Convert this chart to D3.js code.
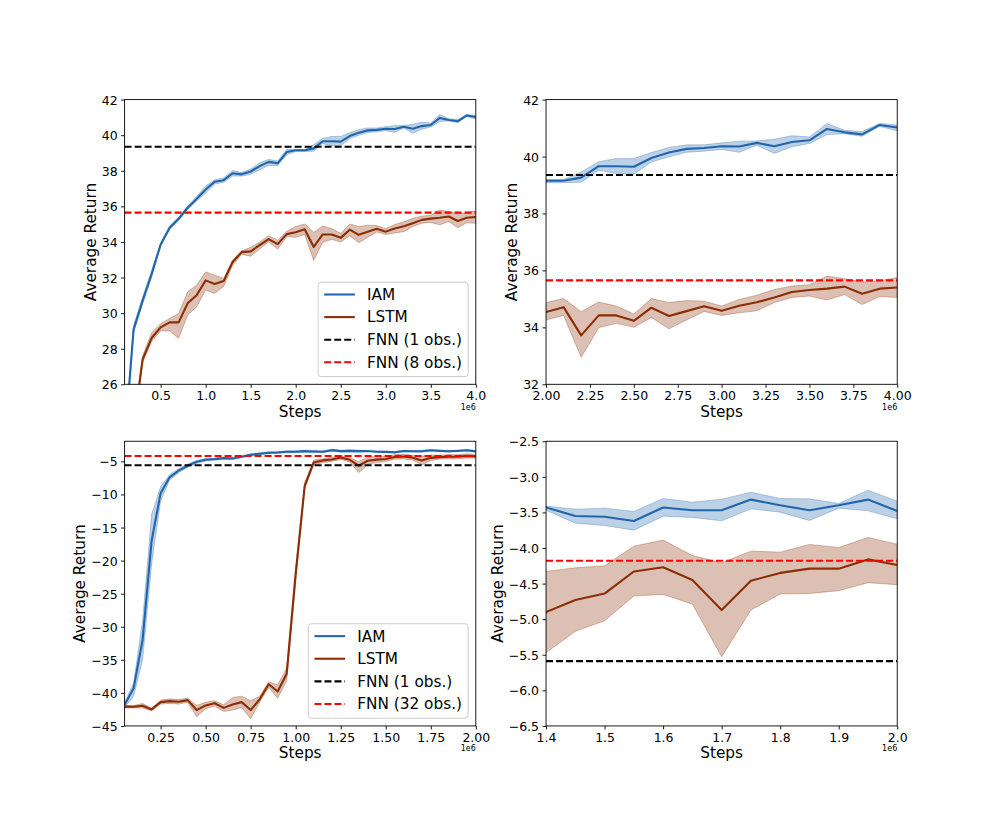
<!DOCTYPE html>
<html><head><meta charset="utf-8">
<script src="https://cdn.jsdelivr.net/npm/d3@7"></script>
<style>
html,body{margin:0;padding:0;background:#fff;}
svg{display:block;font-family:"DejaVu Sans",sans-serif;}
</style></head><body>
<svg id="chart" width="997" height="830"></svg>
<script>
// ---------- data ----------
const topSteps = [0.1,0.2,0.3,0.4,0.5,0.6,0.7,0.8,0.9,1.0,1.1,1.2,1.3,1.4,1.5,1.6,1.7,1.8,1.9,2.0,2.1,2.2,2.3,2.4,2.5,2.6,2.7,2.8,2.9,3.0,3.1,3.2,3.3,3.4,3.5,3.6,3.7,3.8,3.9,4.0];
const topIAM   = [22.7,29.09,30.7,32.2,33.85,34.8,35.3,35.92,36.42,36.95,37.38,37.47,37.86,37.8,37.96,38.26,38.5,38.42,39.05,39.15,39.15,39.26,39.66,39.66,39.64,39.95,40.14,40.27,40.30,40.36,40.35,40.48,40.36,40.51,40.57,40.97,40.85,40.78,41.11,41.02];
const topIAMLo = [22.4,28.9,30.5,32.0,33.75,34.7,35.2,35.82,36.3,36.75,37.25,37.35,37.7,37.7,37.8,38.05,38.3,38.3,38.9,39.08,39.08,39.1,39.52,39.40,39.38,39.81,39.99,40.15,40.19,40.25,40.15,40.40,40.11,40.34,40.46,40.77,40.80,40.71,41.06,40.90];
const topIAMHi = [23.0,29.3,30.9,32.4,33.95,34.9,35.4,36.02,36.55,37.15,37.5,37.6,38.02,37.9,38.1,38.45,38.65,38.55,39.2,39.19,39.19,39.46,39.82,39.93,39.93,40.14,40.32,40.41,40.41,40.48,40.54,40.55,40.61,40.73,40.69,41.16,40.92,40.88,41.16,41.11];
const topLSTM   = [20.5,23.6,27.4,28.6,29.2,29.48,29.48,30.55,31.0,31.84,31.64,31.8,32.87,33.43,33.47,33.82,34.16,33.88,34.44,34.54,34.71,33.72,34.42,34.42,34.23,34.69,34.40,34.57,34.74,34.58,34.76,34.88,35.05,35.24,35.31,35.36,35.43,35.18,35.36,35.40];
const topLSTMLo = [20.2,23.3,27.2,28.4,29.0,29.0,28.58,29.9,30.36,31.3,31.1,31.5,32.7,33.3,33.2,33.6,34.0,33.6,34.3,34.26,34.42,32.95,33.99,34.14,34.0,34.35,33.95,34.26,34.56,34.42,34.51,34.58,34.87,35.05,35.10,34.96,35.15,34.80,35.08,35.05];
const topLSTMHi = [20.8,23.9,27.6,28.9,29.4,29.7,29.98,31.2,31.57,32.32,32.13,31.95,33.0,33.5,33.7,34.0,34.35,34.1,34.6,34.87,35.01,34.55,34.89,34.75,34.47,35.01,34.87,34.94,34.92,34.75,34.98,35.13,35.33,35.45,35.50,35.80,35.71,35.59,35.64,35.75];
const topFNN1 = 39.35;
const topFNN8 = 35.65;

const botSteps = [0.05,0.10,0.15,0.20,0.25,0.30,0.35,0.40,0.45,0.50,0.55,0.60,0.65,0.70,0.75,0.80,0.85,0.90,0.95,1.00,1.05,1.10,1.15,1.20,1.25,1.30,1.35,1.40,1.45,1.50,1.55,1.60,1.65,1.70,1.75,1.80,1.85,1.90,1.95,2.00];
const botIAM   = [-41.8,-39.3,-32.0,-17.0,-9.8,-7.4,-6.4,-5.65,-5.05,-4.75,-4.65,-4.5,-4.55,-4.3,-4.0,-3.85,-3.7,-3.65,-3.55,-3.55,-3.45,-3.5,-3.55,-3.3,-3.45,-3.4,-3.45,-3.43,-3.55,-3.56,-3.62,-3.43,-3.47,-3.47,-3.32,-3.40,-3.47,-3.40,-3.32,-3.48];
const botIAMLo = [-42.2,-40.5,-35.0,-20.5,-11.0,-7.8,-6.7,-5.9,-5.3,-4.95,-4.8,-4.65,-4.7,-4.45,-4.15,-4.0,-3.85,-3.8,-3.7,-3.7,-3.6,-3.65,-3.7,-3.45,-3.6,-3.55,-3.6,-3.47,-3.651,-3.684,-3.749,-3.553,-3.571,-3.618,-3.45,-3.496,-3.613,-3.44,-3.478,-3.59];
const botIAMHi = [-41.4,-38.5,-29.0,-13.0,-8.8,-7.0,-6.1,-5.4,-4.85,-4.55,-4.5,-4.35,-4.4,-4.15,-3.85,-3.7,-3.55,-3.5,-3.4,-3.4,-3.3,-3.35,-3.4,-3.15,-3.3,-3.25,-3.3,-3.41,-3.454,-3.44,-3.487,-3.305,-3.356,-3.314,-3.216,-3.305,-3.309,-3.375,-3.188,-3.342];
const botLSTM   = [-42.08,-42.1,-41.95,-42.5,-41.4,-41.25,-41.35,-41.1,-42.6,-41.9,-41.57,-42.27,-41.77,-41.4,-42.6,-40.96,-38.7,-39.8,-37.1,-22.0,-8.7,-5.15,-4.85,-4.7,-4.4,-4.75,-5.65,-4.90,-4.73,-4.64,-4.33,-4.27,-4.45,-4.87,-4.46,-4.35,-4.29,-4.29,-4.16,-4.24];
const botLSTMLo = [-42.3,-42.3,-42.3,-42.7,-41.7,-41.6,-41.7,-41.4,-43.6,-42.4,-42.0,-42.8,-42.6,-42.2,-43.9,-41.4,-39.2,-40.8,-38.2,-23.0,-9.2,-5.5,-5.2,-5.0,-4.7,-5.1,-6.7,-5.471,-5.171,-5.022,-4.675,-4.652,-4.788,-5.527,-4.872,-4.647,-4.638,-4.6,-4.488,-4.516];
const botLSTMHi = [-41.9,-41.9,-41.6,-42.3,-41.1,-40.9,-41.0,-40.8,-41.9,-41.4,-41.2,-41.8,-40.7,-40.5,-41.2,-40.5,-38.3,-38.8,-36.2,-21.0,-8.2,-4.8,-4.6,-4.4,-4.1,-4.4,-5.0,-4.329,-4.278,-4.25,-3.974,-3.889,-4.105,-4.208,-4.044,-4.058,-3.95,-3.992,-3.852,-3.946];
const botFNN1 = -5.59;
const botFNN32 = -4.18;

const topLegend = ["IAM","LSTM","FNN (1 obs.)","FNN (8 obs.)"];
const botLegend = ["IAM","LSTM","FNN (1 obs.)","FNN (32 obs.)"];

const tlXTicks = [0.5,1.0,1.5,2.0,2.5,3.0,3.5,4.0];
const tlYTicks = [26,28,30,32,34,36,38,40,42];
const trXTicks = [2.0,2.25,2.5,2.75,3.0,3.25,3.5,3.75,4.0];
const trYTicks = [32,34,36,38,40,42];
const blXTicks = [0.25,0.5,0.75,1.0,1.25,1.5,1.75,2.0];
const blYTicks = [-45,-40,-35,-30,-25,-20,-15,-10,-5];
const brXTicks = [1.4,1.5,1.6,1.7,1.8,1.9,2.0];
const brYTicks = [-6.5,-6.0,-5.5,-5.0,-4.5,-4.0,-3.5,-3.0,-2.5];

// ---------- styles ----------
const C_IAM = "#2166ac", C_LSTM = "#8c2d04";
const FS_TICK = 12.5, FS_LABEL = 15.3;

const svg = d3.select("#chart");
const leftM = 124.6, pw = 351.2, topM = 99.6, ph = 284.7;

function mk(steps, v, lo, hi){ return steps.map((s,i)=>({s, v:v[i], lo:lo[i], hi:hi[i]})); }
const topI = mk(topSteps, topIAM, topIAMLo, topIAMHi);
const topL = mk(topSteps, topLSTM, topLSTMLo, topLSTMHi);
const botI = mk(botSteps, botIAM, botIAMLo, botIAMHi);
const botL = mk(botSteps, botLSTM, botLSTMLo, botLSTMHi);

let clipN = 0;
function panel(cfg){
  const g = svg.append("g").attr("transform", `translate(${cfg.x0},${cfg.y0})`);
  const x = d3.scaleLinear().domain(cfg.xDomain).range([0,pw]);
  const y = d3.scaleLinear().domain(cfg.yDomain).range([ph,0]);
  const id = "clip"+(clipN++);
  g.append("clipPath").attr("id", id).append("rect").attr("width", pw).attr("height", ph);
  const plot = g.append("g").attr("clip-path", `url(#${id})`);
  const area = d3.area().x(d=>x(d.s)).y0(d=>y(d.lo)).y1(d=>y(d.hi));
  const line = d3.line().x(d=>x(d.s)).y(d=>y(d.v));
  cfg.series.forEach(s=>{
    plot.append("path").attr("d", area(s.data)).attr("fill", s.color).attr("fill-opacity", 0.3)
      .attr("stroke", s.color).attr("stroke-opacity", 0.3).attr("stroke-width", 1);
    plot.append("path").attr("d", line(s.data)).attr("fill","none").attr("stroke", s.color)
      .attr("stroke-width", 2.1).attr("stroke-linejoin","round");
  });
  cfg.hlines.forEach(h=>{
    plot.append("line").attr("x1",0).attr("x2",pw).attr("y1",y(h.v)).attr("y2",y(h.v))
      .attr("stroke", h.color).attr("stroke-width", 2.1).attr("stroke-dasharray","7,3");
  });
  // axes
  const xa = g.append("g").attr("transform", `translate(0,${ph})`)
    .call(d3.axisBottom(x).tickValues(cfg.xTicks).tickFormat(d3.format(cfg.xFmt)).tickSize(3.5).tickPadding(3.5).tickSizeOuter(0));
  const ya = g.append("g")
    .call(d3.axisLeft(y).tickValues(cfg.yTicks).tickFormat(d3.format(cfg.yFmt)).tickSize(3.5).tickPadding(3.5).tickSizeOuter(0));
  [xa,ya].forEach(a=>{
    a.select(".domain").remove();
    a.selectAll(".tick line").attr("stroke","#000").attr("stroke-width",0.9);
    a.selectAll(".tick text").attr("fill","#000").style("font-size", FS_TICK+"px").style("font-family","DejaVu Sans");
  });
  ya.selectAll(".tick text").attr("dy","0.36em");
  g.append("rect").attr("width", pw).attr("height", ph).attr("fill","none").attr("stroke","#000").attr("stroke-width",0.9);
  // labels
  const yb = ya.node().getBBox();
  g.append("text").attr("transform", `translate(${yb.x - 6},${ph/2}) rotate(-90)`)
    .attr("text-anchor","middle").style("font-size", FS_LABEL+"px").text("Average Return");
  g.append("text").attr("x", pw/2).attr("y", ph+32.5).attr("text-anchor","middle")
    .style("font-size", FS_LABEL+"px").text("Steps");
  g.append("text").attr("x", pw).attr("y", ph+25.5).attr("text-anchor","end")
    .style("font-size", "8px").text("1e6");
  // legend
  if (cfg.legend){
    const items = [
      {t:cfg.legend[0], c:C_IAM, dash:null},
      {t:cfg.legend[1], c:C_LSTM, dash:null},
      {t:cfg.legend[2], c:"#000", dash:"7,3"},
      {t:cfg.legend[3], c:"red", dash:"7,3"}];
    const lg = g.append("g");
    const box = lg.append("rect");
    const texts = items.map((it,i)=> lg.append("text").style("font-size", FS_LABEL+"px").text(it.t));
    const tw = d3.max(texts, t=>t.node().getComputedTextLength());
    const pad = 6.1, hl = 30.6, htp = 12.2;
    const bw = pad + hl + htp + tw + pad, bh = 94.5;
    const bx = pw - 7.7 - bw, by = ph - 7.7 - bh;
    box.attr("x",bx).attr("y",by).attr("width",bw).attr("height",bh).attr("rx",3)
      .attr("fill","#fff").attr("fill-opacity",0.8).attr("stroke","#cccccc").attr("stroke-width",1);
    items.forEach((it,i)=>{
      const cy = by + 12.4 + i*22.6;
      lg.append("line").attr("x1", bx+pad).attr("x2", bx+pad+hl).attr("y1",cy).attr("y2",cy)
        .attr("stroke", it.c).attr("stroke-width",2.1).attr("stroke-dasharray", it.dash);
      texts[i].attr("x", bx+pad+hl+htp).attr("y", cy+5.4);
    });
  }
}

const series = (I,L)=>[{data:I, color:C_IAM},{data:L, color:C_LSTM}];

panel({x0:leftM, y0:topM, xDomain:[0.1,4.0], yDomain:[26,42], xTicks:tlXTicks, yTicks:tlYTicks,
  xFmt:".1f", yFmt:"d", series:series(topI,topL),
  hlines:[{v:topFNN1,color:"#000"},{v:topFNN8,color:"red"}], legend:topLegend});
panel({x0:leftM+1.2*pw, y0:topM, xDomain:[2.0,4.0], yDomain:[32,42], xTicks:trXTicks, yTicks:trYTicks,
  xFmt:".2f", yFmt:"d", series:series(topI,topL),
  hlines:[{v:topFNN1,color:"#000"},{v:topFNN8,color:"red"}]});
panel({x0:leftM, y0:topM+1.2*ph, xDomain:[0.05,2.0], yDomain:[-45,-1.95], xTicks:blXTicks, yTicks:blYTicks,
  xFmt:".2f", yFmt:"d", series:series(botI,botL),
  hlines:[{v:botFNN1,color:"#000"},{v:botFNN32,color:"red"}], legend:botLegend});
panel({x0:leftM+1.2*pw, y0:topM+1.2*ph, xDomain:[1.4,2.0], yDomain:[-6.5,-2.5], xTicks:brXTicks, yTicks:brYTicks,
  xFmt:".1f", yFmt:".1f", series:series(botI,botL),
  hlines:[{v:botFNN1,color:"#000"},{v:botFNN32,color:"red"}]});
</script>
</body></html>
